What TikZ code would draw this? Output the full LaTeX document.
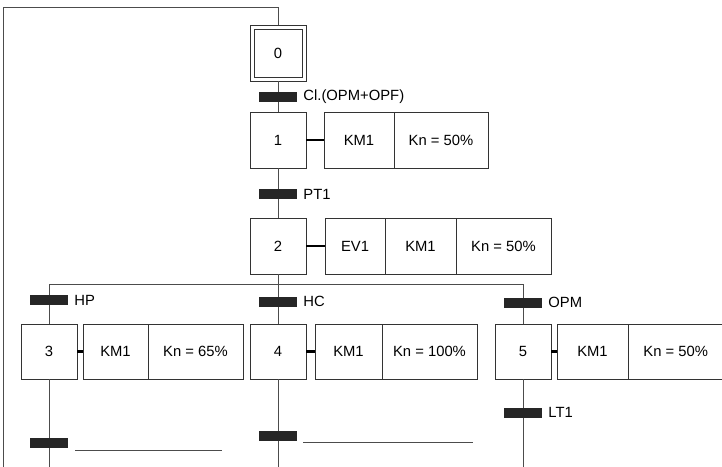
\documentclass[tikz,border=0pt]{standalone}
\usepackage{fontspec}
\setmainfont{Liberation Sans}
\usetikzlibrary{positioning}

\begin{document}
\begin{tikzpicture}[x=1pt, y=-1pt, line width=0.9pt, font=\fontsize{14.8}{17}\selectfont,
      etape/.style = {draw=black!80, minimum size=56pt, inner sep=0pt, outer sep=0pt},
      action/.style = {draw=black!80, minimum height=56pt, inner sep=0pt, outer sep=0pt},
      trans/.style = {fill=black!85, minimum width=38pt, minimum height=10pt, inner sep=0pt, outer sep=0pt},
      recep/.style = {inner sep=1pt, label distance=5pt},
      lien/.style = {draw=black!70, line width=1pt},
      ordre/.style = {draw=black, line width=2.5pt}]
      \useasboundingbox (0,0) rectangle (722,466);

      % etapes
      \node[etape, minimum size=48pt] (0) at (278,53)    {0};
      \node[etape] (0e) at (0)                           {};
      \node[etape] (1) at (278,140)                      {1};
      \node[etape] (2) at (278,246)                      {2};
      \node[etape, minimum height=55pt] (3) at (49,351.5)  {3};
      \node[etape, minimum height=55pt] (4) at (278,351.5) {4};
      \node[etape, minimum height=55pt] (5) at (523,351.5) {5};

      % transitions
      \node[trans, label={[recep]right:Cl.(OPM+OPF)}] (t1) at (278,97)  {};
      \node[trans, label={[recep]right:PT1}]          (t2) at (278,194) {};
      \node[trans, label={[recep]right:HP}]           (t3) at (49,300)  {};
      \node[trans, label={[recep]right:HC}]           (t4) at (278,301.5) {};
      \node[trans, label={[recep]right:OPM}]          (t5) at (523,302.5) {};
      \node[trans, label={[recep]right:LT1}]          (t6) at (523,412.5) {};
      \node[trans] (t7) at (49,442.5)  {};
      \node[trans] (t8) at (278,435.5) {};

      % actions
      \node[action, minimum width=70pt, right=18pt of 1] (a1)  {KM1};
      \node[action, minimum width=94pt, right=0pt of a1] (a1k) {Kn = 50\%};
      \node[action, minimum width=60pt, right=19pt of 2] (a2e) {EV1};
      \node[action, minimum width=71pt, right=0pt of a2e] (a2) {KM1};
      \node[action, minimum width=95pt, right=0pt of a2] (a2k) {Kn = 50\%};
      \node[action, minimum width=65pt, minimum height=55pt, right=6pt of 3] (a3)  {KM1};
      \node[action, minimum width=95pt, minimum height=55pt, right=0pt of a3] (a3k) {Kn = 65\%};
      \node[action, minimum width=67pt, minimum height=55pt, right=9pt of 4] (a4)  {KM1};
      \node[action, minimum width=95pt, minimum height=55pt, right=0pt of a4] (a4k) {Kn = 100\%};
      \node[action, minimum width=71pt, minimum height=55pt, right=6pt of 5] (a5)  {KM1};
      \node[action, minimum width=95.5pt, minimum height=55pt, right=0pt of a5] (a5k) {Kn = 50\%};

      % points de passage
      \coordinate (r0) at (3,470);
      \coordinate (r1) at (278,7);
      \coordinate (d2) at (278,284);
      \coordinate (dg) at (49,284);
      \coordinate (dd) at (523,284);
      \coordinate (f3) at (49,470);
      \coordinate (f4) at (278,470);
      \coordinate (f5) at (523,470);

      \draw[lien] (r0) |- (r1) -- (0e);
      \draw[lien] (dg) -- (dd);
      \path[lien]
      (0e) edge (t1)
      (t1) edge (1)
      (1)  edge (t2)
      (t2) edge (2)
      (2)  edge (d2)
      (dg) edge (t3)
      (d2) edge (t4)
      (dd) edge (t5)
      (t3) edge (3)
      (t4) edge (4)
      (t5) edge (5)
      (3)  edge (t7)
      (4)  edge (t8)
      (5)  edge (t6)
      (t7) edge (f3)
      (t8) edge (f4)
      (t6) edge (f5);

      \path[ordre]
      (1) edge (a1)
      (2) edge (a2e)
      (3) edge (a3)
      (4) edge (a4)
      (5) edge (a5);

      % receptivites a completer
      \draw[black!70, line width=0.8pt] ([xshift=7pt, yshift=-7.5pt]t7.east) -- ++(147,0);
      \draw[black!70, line width=0.8pt] ([xshift=6pt, yshift=-6.5pt]t8.east) -- ++(170,0);
\end{tikzpicture}
\end{document}
